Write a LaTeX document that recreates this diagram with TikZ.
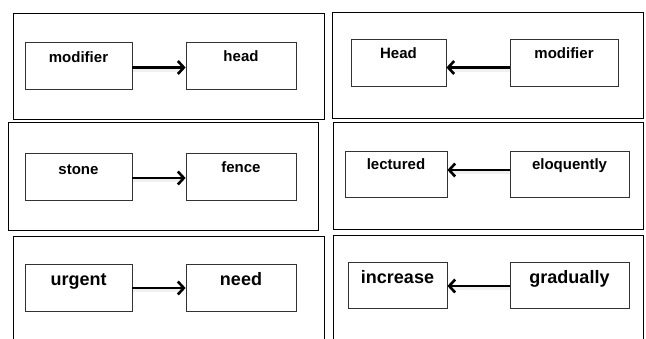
\documentclass[tikz,border=0pt]{standalone}
\usepackage{fontspec}
\setmainfont{Liberation Sans}
\usetikzlibrary{arrows.meta}
\tikzset{
  frame/.style={draw=black, line width=0.9pt},
  wordbox/.style={draw=black!80, line width=0.8pt, fill=white, inner sep=0pt},
  word/.style={font=\bfseries\fontsize{15}{18}\selectfont, inner sep=0pt, anchor=base},
  bigword/.style={font=\bfseries\fontsize{18}{21}\selectfont, inner sep=0pt, anchor=base},
  link/.style={line width=2.8pt, -{Straight Barb[length=6pt, width=13pt, line width=2.6pt]}},
  linkshadow/.style={line width=4pt, draw=black, opacity=0.06, shorten >=3pt,
    transform canvas={yshift=-2pt}},
}
\begin{document}
\begin{tikzpicture}[x=1pt, y=-1pt]
\useasboundingbox (0,0) rectangle (646,338);
\clip (0,0) rectangle (646,338);
\fill[white] (0,0) rectangle (646,338);

% outer frames
\draw[frame] (13,13) rectangle (324,119);
\draw[frame] (332,12) rectangle (643,118);
\draw[frame] (8,122) rectangle (318,230);
\draw[frame] (333,122) rectangle (643,229);
\draw[frame] (13,236) rectangle (324,350);
\draw[frame] (333,235) rectangle (643,350);

% panel 1: modifier -> head
\node[wordbox, minimum width=107pt, minimum height=47pt] (m1) at (78.5,65.5) {};
\node[wordbox, minimum width=110pt, minimum height=47pt] (h1) at (241,65.5) {};
\node[word] (m1t) at ([yshift=-21pt]m1.north) {modifier};
\node[word] (h1t) at ([yshift=-20pt]h1.north) {head};
\draw[linkshadow] ([yshift=-2pt]m1.east) -- ([yshift=-2pt]h1.west);
\draw[link] ([yshift=-2pt]m1.east) -- ([yshift=-2pt]h1.west);

% panel 2: Head <- modifier
\node[wordbox, minimum width=95pt, minimum height=47pt] (h2) at (398.5,62.5) {};
\node[wordbox, minimum width=108pt, minimum height=47pt] (m2) at (564,62.5) {};
\node[word] (h2t) at ([yshift=-20pt]h2.north) {Head};
\node[word] (m2t) at ([yshift=-20pt]m2.north) {modifier};
\draw[linkshadow] ([yshift=-5pt]m2.west) -- ([yshift=-5pt]h2.east);
\draw[link] ([yshift=-5pt]m2.west) -- ([yshift=-5pt]h2.east);

% panel 3: stone -> fence
\node[wordbox, minimum width=107pt, minimum height=47pt] (s3) at (78.5,176.5) {};
\node[wordbox, minimum width=110pt, minimum height=47pt] (f3) at (241,176.5) {};
\node[word] (s3t) at ([yshift=-22pt]s3.north) {stone};
\node[word] (f3t) at ([yshift=-20pt]f3.north) {fence};
\draw[linkshadow] ([yshift=-1.5pt]s3.east) -- ([yshift=-1.5pt]f3.west);
\draw[link] ([yshift=-1.5pt]s3.east) -- ([yshift=-1.5pt]f3.west);

% panel 4: lectured <- eloquently
\node[wordbox, minimum width=102pt, minimum height=46pt] (l4) at (396,174) {};
\node[wordbox, minimum width=119pt, minimum height=46pt] (e4) at (569.5,174) {};
\node[word] (l4t) at ([yshift=-19pt]l4.north) {lectured};
\node[word] (e4t) at ([yshift=-19pt]e4.north) {eloquently};
\draw[linkshadow] ([yshift=4pt]e4.west) -- ([yshift=4pt]l4.east);
\draw[link] ([yshift=4pt]e4.west) -- ([yshift=4pt]l4.east);

% panel 5: urgent -> need
\node[wordbox, minimum width=107pt, minimum height=47pt] (u5) at (78.5,287.5) {};
\node[wordbox, minimum width=110pt, minimum height=47pt] (n5) at (241,287.5) {};
\node[bigword] (u5t) at ([yshift=-22pt]u5.north) {urgent};
\node[bigword] (n5t) at ([yshift=-22pt]n5.north) {need};
\draw[linkshadow] ([yshift=-0.5pt]u5.east) -- ([yshift=-0.5pt]n5.west);
\draw[link] ([yshift=-0.5pt]u5.east) -- ([yshift=-0.5pt]n5.west);

% panel 6: increase <- gradually
\node[wordbox, minimum width=99pt, minimum height=46pt] (i6) at (397.5,285) {};
\node[wordbox, minimum width=119pt, minimum height=46pt] (g6) at (569.5,285) {};
\node[bigword] (i6t) at ([yshift=-22pt]i6.north) {increase};
\node[bigword] (g6t) at ([yshift=-22pt]g6.north) {gradually};
\draw[linkshadow] ([yshift=-1pt]g6.west) -- ([yshift=-1pt]i6.east);
\draw[link] ([yshift=-1pt]g6.west) -- ([yshift=-1pt]i6.east);
\end{tikzpicture}
\end{document}
